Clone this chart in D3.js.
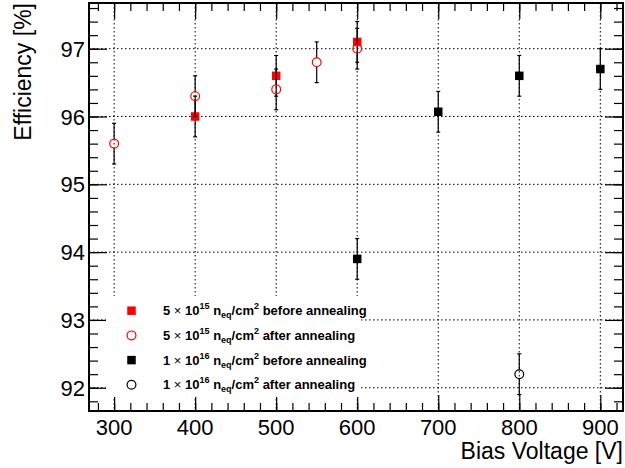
<!DOCTYPE html>
<html><head><meta charset="utf-8">
<script src="https://d3js.org/d3.v7.min.js"></script>
<style>body{margin:0;background:#fff}svg{display:block}text{font-family:"Liberation Sans",Arial,sans-serif}</style>
</head><body><div id="chart"></div>
<script>
// data
const xRange = [269, 928];
const yRange = [91.657, 97.674];
const xTicks = [300, 400, 500, 600, 700, 800, 900];
const yTicks = [92, 93, 94, 95, 96, 97];
const s1_before_x = [400, 500, 600];
const s1_before_y = [96.0, 96.6, 97.1];
const s1_before_err = [0.3, 0.3, 0.3];
const s1_after_x = [300, 400, 500, 550, 600];
const s1_after_y = [95.6, 96.3, 96.4, 96.8, 97.0];
const s1_after_err = [0.3, 0.3, 0.3, 0.3, 0.3];
const s2_before_x = [600, 700, 800, 900];
const s2_before_y = [93.9, 96.07, 96.6, 96.7];
const s2_before_err = [0.3, 0.3, 0.3, 0.3];
const s2_after_x = [800];
const s2_after_y = [92.2];
const s2_after_err = [0.3];
const legendLabels = [
  {mant:"5", exp:"15", rest:" before annealing"},
  {mant:"5", exp:"15", rest:" after annealing"},
  {mant:"1", exp:"16", rest:" before annealing"},
  {mant:"1", exp:"16", rest:" after annealing"}
];

const W = 625, H = 468;
const L = 89, R = 623, T = 3, B = 411;
const svg = d3.select("#chart").append("svg").attr("width", W).attr("height", H);
const x = d3.scaleLinear().domain(xRange).range([L, R]);
const y = d3.scaleLinear().domain(yRange).range([B, T]);

// grid
const grid = svg.append("g").attr("stroke", "#000").attr("stroke-width", 1).attr("stroke-dasharray", "1.5,2.5");
grid.selectAll(".gx").data(xTicks).join("line").attr("x1", d => x(d)).attr("x2", d => x(d)).attr("y1", T).attr("y2", B);
grid.selectAll(".gy").data(yTicks).join("line").attr("y1", d => y(d)).attr("y2", d => y(d)).attr("x1", L).attr("x2", R);

// axes via d3
const xMinor = d3.range(280, 928, 20);
const yMinor = d3.range(91.8, 97.7, 0.2);
function fmt(){ return ""; }
svg.append("g").attr("transform", `translate(0,${B})`)
  .call(d3.axisTop(x).tickValues(xMinor).tickSize(8).tickFormat(fmt));
svg.append("g").attr("transform", `translate(0,${B})`)
  .call(d3.axisTop(x).tickValues(xTicks).tickSize(16).tickFormat(fmt));
svg.append("g").attr("transform", `translate(0,${T})`)
  .call(d3.axisBottom(x).tickValues(xMinor).tickSize(8).tickFormat(fmt));
svg.append("g").attr("transform", `translate(0,${T})`)
  .call(d3.axisBottom(x).tickValues(xTicks).tickSize(16).tickFormat(fmt));
svg.append("g").attr("transform", `translate(${L},0)`)
  .call(d3.axisRight(y).tickValues(yMinor).tickSize(9).tickFormat(fmt));
svg.append("g").attr("transform", `translate(${L},0)`)
  .call(d3.axisRight(y).tickValues(yTicks).tickSize(18).tickFormat(fmt));
svg.append("g").attr("transform", `translate(${R},0)`)
  .call(d3.axisLeft(y).tickValues(yMinor).tickSize(9).tickFormat(fmt));
svg.append("g").attr("transform", `translate(${R},0)`)
  .call(d3.axisLeft(y).tickValues(yTicks).tickSize(18).tickFormat(fmt));
svg.selectAll(".domain").remove();
svg.selectAll(".tick line").attr("stroke", "#000").attr("stroke-width", 1.2);

// frame
svg.append("rect").attr("x", L).attr("y", T).attr("width", R - L).attr("height", B - T)
  .attr("fill", "none").attr("stroke", "#000").attr("stroke-width", 2);

// tick labels
svg.append("g").selectAll("text").data(xTicks).join("text")
  .attr("x", d => x(d)).attr("y", 435).attr("text-anchor", "middle")
  .attr("font-size", 22).text(d => d);
svg.append("g").selectAll("text").data(yTicks).join("text")
  .attr("x", 85).attr("y", d => y(d) + 8).attr("text-anchor", "end")
  .attr("font-size", 22).text(d => d);

// axis titles
svg.append("text").attr("x", R).attr("y", 459).attr("text-anchor", "end")
  .attr("font-size", 23).text("Bias Voltage [V]");
svg.append("text").attr("transform", `translate(31,3) rotate(-90)`).attr("text-anchor", "end")
  .attr("font-size", 23).text("Efficiency [%]");

// series drawing
const r = 4.4, sq = 8.5;
function drawSeries(xs, ys, es, filled) {
  const g = svg.append("g");
  const data = xs.map((v, i) => ({x: v, y: ys[i], e: es[i]}));
  const gap = filled ? 0 : r;
  data.forEach(d => {
    const cx = x(d.x), cy = y(d.y), top = y(d.y + d.e), bot = y(d.y - d.e);
    g.append("line").attr("x1", cx).attr("x2", cx).attr("y1", top).attr("y2", cy - gap).attr("stroke", "#000").attr("stroke-width", 1.2);
    g.append("line").attr("x1", cx).attr("x2", cx).attr("y1", cy + gap).attr("y2", bot).attr("stroke", "#000").attr("stroke-width", 1.2);
    g.append("line").attr("x1", cx - 2).attr("x2", cx + 2).attr("y1", top).attr("y2", top).attr("stroke", "#000").attr("stroke-width", 1.2);
    g.append("line").attr("x1", cx - 2).attr("x2", cx + 2).attr("y1", bot).attr("y2", bot).attr("stroke", "#000").attr("stroke-width", 1.2);
  });
  return {g, data};
}
function markers(g, data, color, filled) {
  if (filled) {
    g.selectAll("rect.m").data(data).join("rect").attr("class", "m")
      .attr("x", d => x(d.x) - sq / 2).attr("y", d => y(d.y) - sq / 2)
      .attr("width", sq).attr("height", sq).attr("fill", color);
  } else {
    g.selectAll("circle.m").data(data).join("circle").attr("class", "m")
      .attr("cx", d => x(d.x)).attr("cy", d => y(d.y)).attr("r", r)
      .attr("fill", "none").attr("stroke", color).attr("stroke-width", 1.2);
  }
}
const a = drawSeries(s1_before_x, s1_before_y, s1_before_err, true);
const b = drawSeries(s1_after_x, s1_after_y, s1_after_err, false);
const c = drawSeries(s2_before_x, s2_before_y, s2_before_err, true);
const dd = drawSeries(s2_after_x, s2_after_y, s2_after_err, false);
markers(a.g, a.data, "#f00", true);
markers(b.g, b.data, "#f00", false);
markers(c.g, c.data, "#000", true);
markers(dd.g, dd.data, "#000", false);

// legend
const leg = svg.append("g");
leg.append("rect").attr("x", 106).attr("y", 296).attr("width", 254).attr("height", 101).attr("fill", "#fff");
const legStyles = [{c:"#f00", f:true}, {c:"#f00", f:false}, {c:"#000", f:true}, {c:"#000", f:false}];
legendLabels.forEach((lab, i) => {
  const cy = 310.7 + i * 24.7, cx = 131.5;
  const st = legStyles[i];
  if (st.f) leg.append("rect").attr("x", cx - sq/2).attr("y", cy - sq/2).attr("width", sq).attr("height", sq).attr("fill", st.c);
  else leg.append("circle").attr("cx", cx).attr("cy", cy).attr("r", r).attr("fill", "none").attr("stroke", st.c).attr("stroke-width", 1.2);
  const t = leg.append("text").attr("x", 163).attr("y", cy + 4.5).attr("font-size", 13).attr("font-weight", "bold");
  t.append("tspan").text(lab.mant + " ");
  t.append("tspan").attr("font-weight", "normal").text("×");
  t.append("tspan").text(" 10");
  t.append("tspan").attr("font-size", 9).attr("dy", -6).text(lab.exp);
  t.append("tspan").attr("dy", 6).text(" n");
  t.append("tspan").attr("font-size", 9).attr("dy", 3).text("eq");
  t.append("tspan").attr("dy", -3).text("/cm");
  t.append("tspan").attr("font-size", 9).attr("dy", -6).text("2");
  t.append("tspan").attr("dy", 6).text(lab.rest);
});
</script></body></html>
